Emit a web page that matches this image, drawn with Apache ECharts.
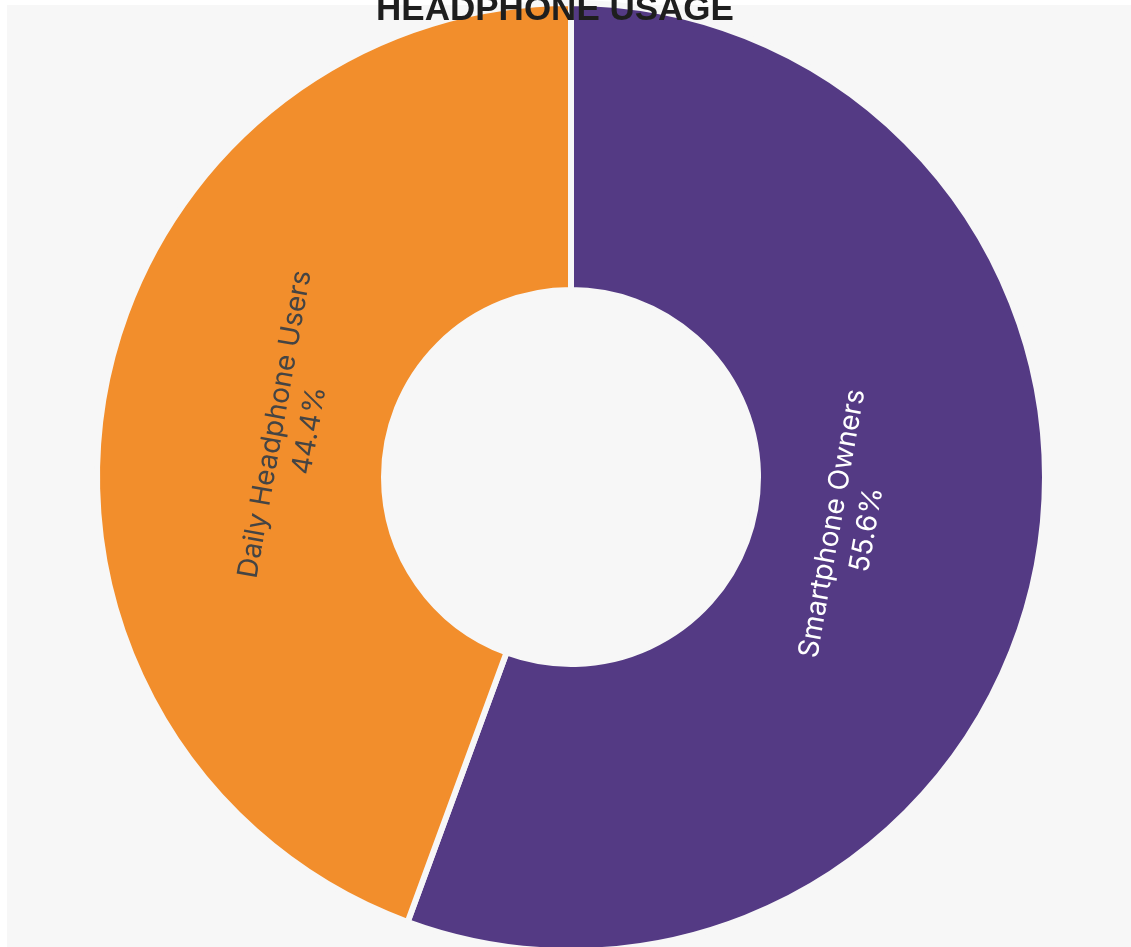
<!DOCTYPE html>
<html>
<head>
<meta charset="utf-8">
<title>Headphone Usage</title>
<script src="https://cdn.jsdelivr.net/npm/echarts@6/dist/echarts.min.js"></script>
<style>
  html, body { margin: 0; padding: 0; background: #ffffff; }
  #chart { width: 1131px; height: 947px; }
</style>
</head>
<body>
<div id="chart"></div>
<script>
// Share of respondents per group (percent)
const categories = ['Smartphone Owners', 'Daily Headphone Users'];
const shares = [55.6, 44.4];
const sliceColors = ['#543a84', '#f28e2c'];
const labelColors = ['#ffffff', '#444444'];

const pieData = categories.map((name, i) => ({
  name: name,
  value: shares[i],
  itemStyle: { color: sliceColors[i] },
  label: { color: labelColors[i] }
}));

const chart = echarts.init(document.getElementById('chart'));
chart.setOption({
  backgroundColor: '#ffffff',
  animation: false,
  title: {
    text: 'HEADPHONE USAGE',
    left: 550,
    textAlign: 'center',
    top: -12,
    textStyle: {
      fontFamily: 'Liberation Sans',
      fontWeight: 'bold',
      fontSize: 35,
      color: '#1e1e1e'
    },
    z: 10
  },
  graphic: [{
    type: 'rect',
    left: 7,
    top: 5,
    shape: { width: 1124, height: 942 },
    style: { fill: '#f7f7f7' },
    z: -10,
    silent: true
  }],
  series: [
    {
      // the ring itself; the background-coloured stroke opens the gap between slices
      type: 'pie',
      center: [571, 477],
      radius: [187, 474],
      startAngle: 90,
      clockwise: true,
      silent: true,
      label: { show: false },
      labelLine: { show: false },
      itemStyle: { borderColor: '#f7f7f7', borderWidth: 6 },
      data: pieData.map(d => ({ name: d.name, value: d.value, itemStyle: d.itemStyle }))
    },
    {
      // transparent twin carrying the slice labels nearer the hole
      type: 'pie',
      center: [571, 477],
      radius: [190, 370],
      startAngle: 90,
      clockwise: true,
      silent: true,
      itemStyle: { color: 'rgba(0,0,0,0)' },
      labelLine: { show: false },
      label: {
        show: true,
        position: 'inside',
        rotate: 'tangential',
        fontFamily: 'Inter',
        fontWeight: 400,
        fontSize: 28,
        lineHeight: 35,
        align: 'center',
        formatter: p => p.name + '\n' + p.value.toFixed(1) + '%'
      },
      data: pieData.map(d => ({ name: d.name, value: d.value, label: d.label }))
    }
  ]
});
</script>
</body>
</html>
